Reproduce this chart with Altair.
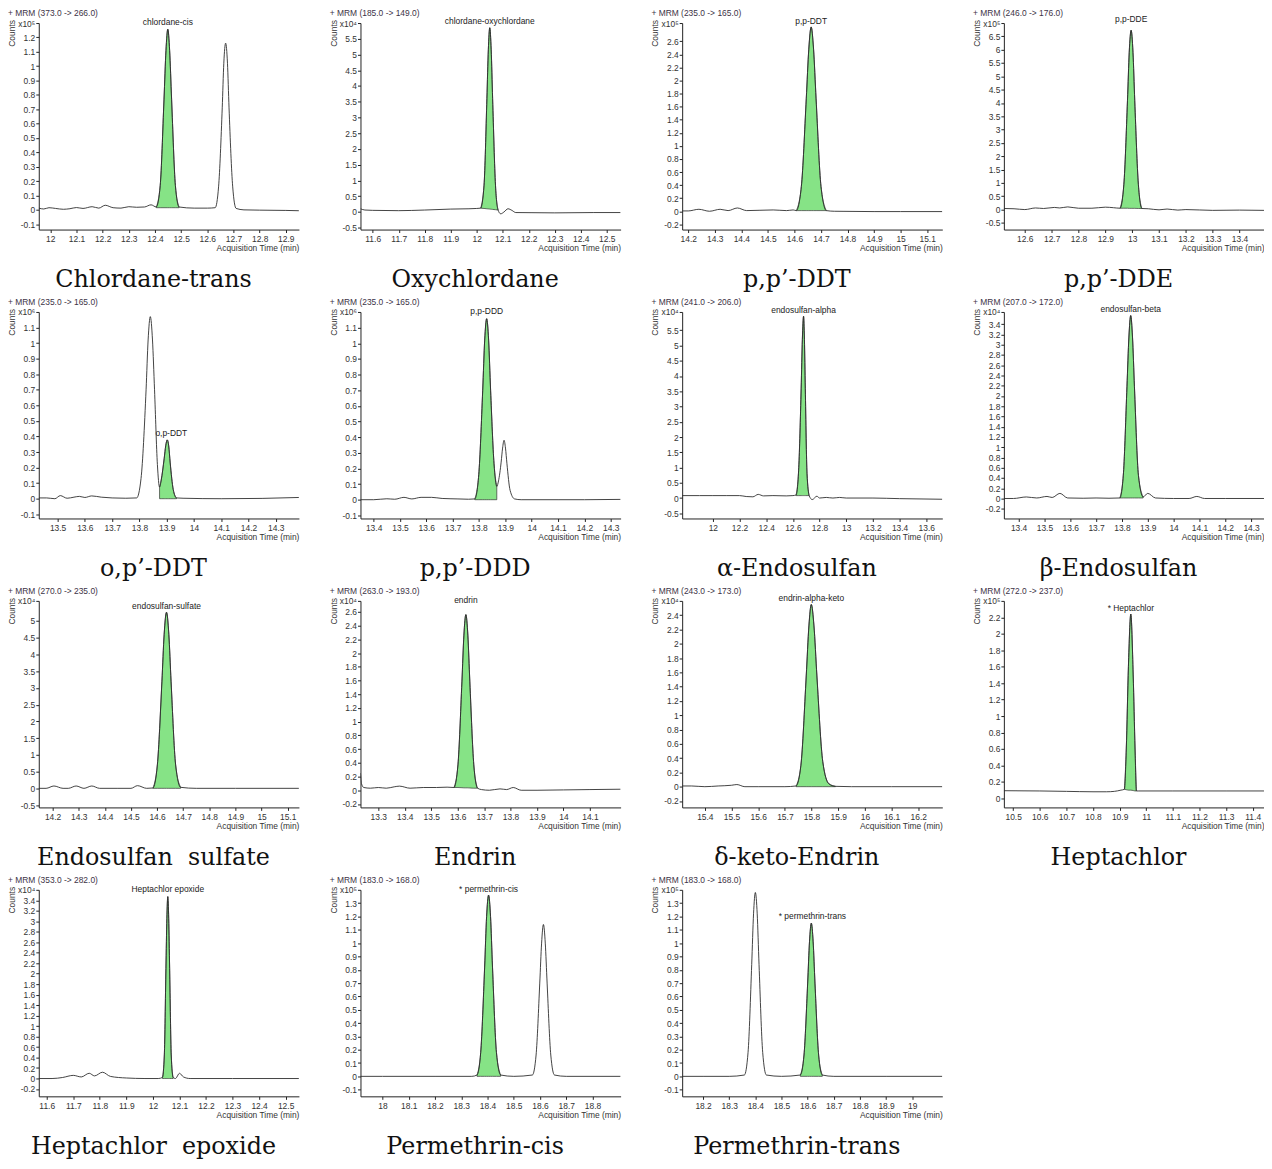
import altair as alt
import pandas as pd

# ---------------- data ----------------
# Panel 1: Chlordane-trans
P01_T = [11.956, 11.975, 11.995, 12.02, 12.05, 12.075, 12.1, 12.125, 12.16, 12.185, 12.21, 12.24, 12.27, 12.3, 12.33, 12.36, 12.385, 12.405, 12.42, 12.4345, 12.442, 12.449, 12.456, 12.4635, 12.478, 12.492, 12.55, 12.6, 12.63, 12.643, 12.657, 12.663, 12.67, 12.677, 12.683, 12.697, 12.71, 12.74, 12.8, 12.9, 12.95]
P01_C = [0.012, 0.006, 0.015, 0.01, 0.004, 0.008, 0.016, 0.01, 0.022, 0.012, 0.032, 0.015, 0.012, 0.022, 0.018, 0.02, 0.035, 0.02, 0.17, 0.77, 1.11, 1.257, 1.11, 0.77, 0.17, 0.02, 0.012, 0.012, 0.015, 0.16, 0.71, 1.02, 1.16, 1.02, 0.71, 0.16, 0.01, 0.0, -0.002, -0.004, -0.006]
P01_FT = [12.405, 12.42, 12.4345, 12.442, 12.449, 12.456, 12.4635, 12.478, 12.492]
P01_FC = [0.02, 0.17, 0.77, 1.11, 1.257, 1.11, 0.77, 0.17, 0.02]
P01_FB = [0.015, 0.015, 0.015, 0.015, 0.015, 0.015, 0.015, 0.015, 0.015]
P01_XD = [11.956, 12.95]
P01_YD = [-0.137, 1.3]
P01_XT = [12.0, 12.1, 12.2, 12.3, 12.4, 12.5, 12.6, 12.7, 12.8, 12.9]
P01_YT = [-0.1, 0, 0.1, 0.2, 0.3, 0.4, 0.5, 0.6, 0.7, 0.8, 0.9, 1, 1.1, 1.2]
P01_LAB = [12.449, 1.257]

# Panel 2: Oxychlordane
P02_T = [11.553, 11.57, 11.6, 11.7, 11.8, 11.9, 11.97, 12.0, 12.015, 12.028, 12.039, 12.0445, 12.05, 12.0555, 12.061, 12.072, 12.082, 12.092, 12.105, 12.12, 12.135, 12.15, 12.3, 12.45, 12.553]
P02_C = [0.1, 0.06, 0.05, 0.04, 0.06, 0.09, 0.1, 0.11, 0.12, 0.85, 3.6, 5.15, 5.85, 5.15, 3.6, 0.85, 0.06, -0.06, 0.0, 0.1, 0.05, -0.02, -0.03, -0.02, -0.02]
P02_FT = [12.015, 12.028, 12.039, 12.0445, 12.05, 12.0555, 12.061, 12.072, 12.082]
P02_FC = [0.12, 0.85, 3.6, 5.15, 5.85, 5.15, 3.6, 0.85, 0.06]
P02_FB = [0.12, 0.11, 0.1, 0.095, 0.09, 0.085, 0.08, 0.07, 0.06]
P02_XD = [11.553, 12.553]
P02_YD = [-0.56, 6.0]
P02_XT = [11.6, 11.7, 11.8, 11.9, 12.0, 12.1, 12.2, 12.3, 12.4, 12.5]
P02_YT = [-0.5, 0, 0.5, 1, 1.5, 2, 2.5, 3, 3.5, 4, 4.5, 5, 5.5]
P02_LAB = [12.05, 5.85]

# Panel 3: p,p'-DDT
P03_T = [14.177, 14.2, 14.24, 14.28, 14.32, 14.35, 14.385, 14.42, 14.47, 14.52, 14.57, 14.595, 14.607, 14.626, 14.6445, 14.654, 14.663, 14.672, 14.6815, 14.70, 14.72, 14.75, 14.9, 15.0, 15.157]
P03_C = [0.005, 0.005, 0.03, 0.0, 0.03, 0.01, 0.05, 0.01, 0.015, 0.02, 0.01, 0.02, 0.01, 0.38, 1.72, 2.48, 2.82, 2.48, 1.72, 0.38, 0.01, 0.0, -0.005, -0.005, -0.005]
P03_FT = [14.607, 14.626, 14.6445, 14.654, 14.663, 14.672, 14.6815, 14.70, 14.72]
P03_FC = [0.01, 0.38, 1.72, 2.48, 2.82, 2.48, 1.72, 0.38, 0.01]
P03_FB = [0.01, 0.01, 0.01, 0.01, 0.01, 0.01, 0.01, 0.01, 0.01]
P03_XD = [14.177, 15.157]
P03_YD = [-0.28, 2.88]
P03_XT = [14.2, 14.3, 14.4, 14.5, 14.6, 14.7, 14.8, 14.9, 15.0, 15.1]
P03_YT = [-0.2, 0, 0.2, 0.4, 0.6, 0.8, 1, 1.2, 1.4, 1.6, 1.8, 2, 2.2, 2.4, 2.6]
P03_LAB = [14.663, 2.82]

# Panel 4: p,p'-DDE
P04_T = [12.522, 12.56, 12.6, 12.64, 12.67, 12.71, 12.73, 12.76, 12.8, 12.85, 12.9, 12.93, 12.955, 12.969, 12.9825, 12.989, 12.996, 13.003, 13.0095, 13.023, 13.036, 13.06, 13.1, 13.13, 13.17, 13.2, 13.3, 13.4, 13.491]
P04_C = [0.04, 0.03, 0.0, 0.06, 0.04, 0.08, 0.06, 0.1, 0.05, 0.05, 0.09, 0.07, 0.05, 0.95, 4.1, 5.9, 6.73, 5.9, 4.1, 0.95, 0.04, 0.03, -0.01, 0.02, -0.02, 0.0, -0.03, -0.02, -0.03]
P04_FT = [12.955, 12.969, 12.9825, 12.989, 12.996, 13.003, 13.0095, 13.023, 13.036]
P04_FC = [0.05, 0.95, 4.1, 5.9, 6.73, 5.9, 4.1, 0.95, 0.04]
P04_FB = [0.05, 0.05, 0.05, 0.045, 0.045, 0.045, 0.045, 0.04, 0.04]
P04_XD = [12.522, 13.491]
P04_YD = [-0.75, 7.0]
P04_XT = [12.6, 12.7, 12.8, 12.9, 13.0, 13.1, 13.2, 13.3, 13.4]
P04_YT = [-0.5, 0, 0.5, 1, 1.5, 2, 2.5, 3, 3.5, 4, 4.5, 5, 5.5, 6, 6.5]
P04_LAB = [12.996, 6.73]

# Panel 5: o,p'-DDT
P05_T = [13.431, 13.46, 13.49, 13.51, 13.535, 13.56, 13.58, 13.6, 13.625, 13.66, 13.7, 13.75, 13.79, 13.806, 13.8245, 13.832, 13.84, 13.848, 13.8555, 13.866, 13.874, 13.88, 13.891, 13.8965, 13.902, 13.9075, 13.913, 13.924, 13.936, 13.96, 14.1, 14.25, 14.385]
P05_C = [0.005, 0.005, 0.0, 0.02, 0.003, 0.01, 0.015, 0.008, 0.018, 0.01, 0.005, 0.003, 0.005, 0.13, 0.70, 1.02, 1.17, 1.02, 0.70, 0.22, 0.075, 0.12, 0.26, 0.34, 0.378, 0.34, 0.23, 0.06, 0.005, 0.003, 0.0, 0.002, 0.008]
P05_FT = [13.874, 13.88, 13.891, 13.8965, 13.902, 13.9075, 13.913, 13.924, 13.936]
P05_FC = [0.075, 0.12, 0.26, 0.34, 0.378, 0.34, 0.23, 0.06, 0.005]
P05_FB = [0, 0, 0, 0, 0, 0, 0, 0, 0]
P05_XD = [13.431, 14.385]
P05_YD = [-0.127, 1.2]
P05_XT = [13.5, 13.6, 13.7, 13.8, 13.9, 14.0, 14.1, 14.2, 14.3]
P05_YT = [-0.1, 0, 0.1, 0.2, 0.3, 0.4, 0.5, 0.6, 0.7, 0.8, 0.9, 1, 1.1]
P05_LAB = [13.917, 0.378]

# Panel 6: p,p'-DDD
P06_T = [13.35, 13.4, 13.45, 13.48, 13.515, 13.545, 13.58, 13.62, 13.66, 13.72, 13.76, 13.784, 13.799, 13.814, 13.8215, 13.829, 13.8365, 13.844, 13.857, 13.8675, 13.874, 13.884, 13.8895, 13.895, 13.9005, 13.906, 13.918, 13.935, 13.96, 14.1, 14.2, 14.3375]
P06_C = [0.0, 0.0, 0.006, 0.003, 0.015, 0.005, 0.015, 0.015, 0.008, 0.005, 0.003, 0.005, 0.16, 0.70, 1.02, 1.157, 1.02, 0.70, 0.23, 0.085, 0.12, 0.24, 0.33, 0.38, 0.33, 0.23, 0.06, 0.005, 0.0, 0.0, 0.0, 0.002]
P06_FT = [13.784, 13.799, 13.814, 13.8215, 13.829, 13.8365, 13.844, 13.857, 13.8675]
P06_FC = [0.005, 0.16, 0.70, 1.02, 1.157, 1.02, 0.70, 0.23, 0.085]
P06_FB = [0, 0, 0, 0, 0, 0, 0, 0, 0]
P06_XD = [13.35, 14.3375]
P06_YD = [-0.12, 1.2]
P06_XT = [13.4, 13.5, 13.6, 13.7, 13.8, 13.9, 14.0, 14.1, 14.2, 14.3]
P06_YT = [-0.1, 0, 0.1, 0.2, 0.3, 0.4, 0.5, 0.6, 0.7, 0.8, 0.9, 1, 1.1]
P06_LAB = [13.829, 1.157]

# Panel 7: alpha-Endosulfan
P07_T = [11.77, 11.9, 12.0, 12.1, 12.2, 12.25, 12.3, 12.34, 12.38, 12.45, 12.55, 12.6, 12.624, 12.644, 12.662, 12.671, 12.68, 12.6865, 12.693, 12.706, 12.722, 12.745, 12.78, 12.8, 12.85, 12.9, 12.95, 13.0, 13.2, 13.4, 13.72]
P07_C = [0.08, 0.08, 0.08, 0.08, 0.08, 0.05, 0.04, 0.12, 0.07, 0.08, 0.07, 0.08, 0.1, 1.0, 3.6, 5.2, 5.96, 5.2, 3.6, 0.8, 0.08, -0.05, 0.06, 0.0, 0.02, 0.0, 0.02, 0.0, 0.0, -0.02, -0.04]
P07_FT = [12.624, 12.644, 12.662, 12.671, 12.68, 12.6865, 12.693, 12.706, 12.722]
P07_FC = [0.1, 1.0, 3.6, 5.2, 5.96, 5.2, 3.6, 0.8, 0.08]
P07_FB = [0.08, 0.08, 0.08, 0.08, 0.08, 0.08, 0.08, 0.08, 0.08]
P07_XD = [11.77, 13.72]
P07_YD = [-0.67, 6.1]
P07_XT = [12.0, 12.2, 12.4, 12.6, 12.8, 13.0, 13.2, 13.4, 13.6]
P07_YT = [-0.5, 0, 0.5, 1, 1.5, 2, 2.5, 3, 3.5, 4, 4.5, 5, 5.5]
P07_LAB = [12.68, 5.96]

# Panel 8: beta-Endosulfan
P08_T = [13.343, 13.38, 13.43, 13.47, 13.51, 13.53, 13.56, 13.59, 13.65, 13.7, 13.75, 13.792, 13.806, 13.8195, 13.827, 13.834, 13.841, 13.8485, 13.864, 13.882, 13.9, 13.93, 14.0, 14.06, 14.09, 14.12, 14.2, 14.35]
P08_C = [0.0, 0.0, 0.03, 0.01, 0.04, 0.02, 0.1, 0.01, 0.005, 0.01, 0.005, 0.01, 0.5, 2.18, 3.15, 3.57, 3.15, 2.18, 0.45, 0.03, 0.1, 0.01, 0.0, 0.0, 0.04, 0.0, 0.0, 0.0]
P08_FT = [13.792, 13.806, 13.8195, 13.827, 13.834, 13.841, 13.8485, 13.864, 13.882]
P08_FC = [0.01, 0.5, 2.18, 3.15, 3.57, 3.15, 2.18, 0.45, 0.03]
P08_FB = [0.01, 0.01, 0.01, 0.01, 0.01, 0.01, 0.01, 0.01, 0.01]
P08_XD = [13.343, 14.35]
P08_YD = [-0.39, 3.64]
P08_XT = [13.4, 13.5, 13.6, 13.7, 13.8, 13.9, 14.0, 14.1, 14.2, 14.3]
P08_YT = [-0.2, 0, 0.2, 0.4, 0.6, 0.8, 1, 1.2, 1.4, 1.6, 1.8, 2, 2.2, 2.4, 2.6, 2.8, 3, 3.2, 3.4]
P08_LAB = [13.834, 3.57]

# Panel 9: Endosulfan sulfate
P09_T = [14.147, 14.175, 14.205, 14.24, 14.26, 14.29, 14.32, 14.35, 14.38, 14.45, 14.5, 14.525, 14.56, 14.584, 14.601, 14.6185, 14.627, 14.636, 14.645, 14.6535, 14.671, 14.69, 14.75, 14.9, 15.143]
P09_C = [0.0, 0.0, 0.07, 0.0, 0.0, 0.07, 0.0, 0.07, 0.0, 0.0, 0.0, 0.08, 0.0, 0.01, 0.7, 3.2, 4.6, 5.26, 4.6, 3.2, 0.7, 0.03, 0.0, 0.0, 0.0]
P09_FT = [14.584, 14.601, 14.6185, 14.627, 14.636, 14.645, 14.6535, 14.671, 14.69]
P09_FC = [0.01, 0.7, 3.2, 4.6, 5.26, 4.6, 3.2, 0.7, 0.03]
P09_FB = [0, 0, 0, 0, 0, 0, 0, 0, 0]
P09_XD = [14.147, 15.143]
P09_YD = [-0.57, 5.6]
P09_XT = [14.2, 14.3, 14.4, 14.5, 14.6, 14.7, 14.8, 14.9, 15.0, 15.1]
P09_YT = [-0.5, 0, 0.5, 1, 1.5, 2, 2.5, 3, 3.5, 4, 4.5, 5]
P09_LAB = [14.636, 5.26]

# Panel 10: Endrin
P10_T = [13.2325, 13.236, 13.245, 13.27, 13.3, 13.33, 13.36, 13.38, 13.42, 13.47, 13.52, 13.56, 13.586, 13.601, 13.616, 13.6235, 13.631, 13.6385, 13.646, 13.661, 13.675, 13.69, 13.72, 13.76, 13.785, 13.81, 13.84, 13.9, 14.0, 14.1, 14.216]
P10_C = [0.25, 0.1, 0.04, 0.03, 0.04, 0.03, 0.05, 0.06, 0.03, 0.04, 0.04, 0.045, 0.04, 0.37, 1.58, 2.26, 2.56, 2.26, 1.58, 0.37, 0.03, 0.01, 0.0, 0.02, 0.01, 0.04, 0.0, 0.0, 0.005, 0.01, 0.015]
P10_FT = [13.586, 13.601, 13.616, 13.6235, 13.631, 13.6385, 13.646, 13.661, 13.675]
P10_FC = [0.04, 0.37, 1.58, 2.26, 2.56, 2.26, 1.58, 0.37, 0.03]
P10_FB = [0.04, 0.04, 0.037, 0.035, 0.035, 0.035, 0.033, 0.03, 0.03]
P10_XD = [13.2325, 14.216]
P10_YD = [-0.25, 2.76]
P10_XT = [13.3, 13.4, 13.5, 13.6, 13.7, 13.8, 13.9, 14.0, 14.1]
P10_YT = [-0.2, 0, 0.2, 0.4, 0.6, 0.8, 1, 1.2, 1.4, 1.6, 1.8, 2, 2.2, 2.4, 2.6]
P10_LAB = [13.631, 2.56]

# Panel 11: delta-keto-Endrin
P11_T = [15.315, 15.35, 15.4, 15.45, 15.5, 15.52, 15.55, 15.6, 15.7, 15.742, 15.76, 15.78, 15.79, 15.799, 15.809, 15.82, 15.842, 15.865, 15.89, 15.95, 16.1, 16.29]
P11_C = [0.01, 0.01, 0.0, 0.01, 0.02, 0.03, 0.0, 0.0, 0.0, 0.01, 0.3, 1.55, 2.25, 2.55, 2.25, 1.55, 0.35, 0.04, 0.005, 0.0, 0.0, 0.0]
P11_FT = [15.742, 15.76, 15.78, 15.79, 15.799, 15.809, 15.82, 15.842, 15.865, 15.89]
P11_FC = [0.01, 0.3, 1.55, 2.25, 2.55, 2.25, 1.55, 0.35, 0.04, 0.005]
P11_FB = [0, 0, 0, 0, 0, 0, 0, 0, 0, 0]
P11_XD = [15.315, 16.29]
P11_YD = [-0.29, 2.6]
P11_XT = [15.4, 15.5, 15.6, 15.7, 15.8, 15.9, 16.0, 16.1, 16.2]
P11_YT = [-0.2, 0, 0.2, 0.4, 0.6, 0.8, 1, 1.2, 1.4, 1.6, 1.8, 2, 2.2, 2.4]
P11_LAB = [15.799, 2.55]

# Panel 12: Heptachlor
P12_T = [10.465, 10.6, 10.7, 10.8, 10.85, 10.88, 10.905, 10.918, 10.925, 10.933, 10.942, 10.951, 10.958, 10.963, 10.97, 11.1, 11.3, 11.4425]
P12_C = [0.093, 0.09, 0.085, 0.08, 0.08, 0.085, 0.1, 0.11, 0.6, 1.6, 2.24, 1.5, 0.6, 0.09, 0.09, 0.09, 0.09, 0.09]
P12_FT = [10.918, 10.925, 10.933, 10.942, 10.951, 10.958, 10.963]
P12_FC = [0.11, 0.6, 1.6, 2.24, 1.5, 0.6, 0.09]
P12_FB = [0.11, 0.105, 0.1, 0.1, 0.095, 0.09, 0.09]
P12_XD = [10.465, 11.4425]
P12_YD = [-0.11, 2.4]
P12_XT = [10.5, 10.6, 10.7, 10.8, 10.9, 11.0, 11.1, 11.2, 11.3, 11.4]
P12_YT = [0, 0.2, 0.4, 0.6, 0.8, 1, 1.2, 1.4, 1.6, 1.8, 2, 2.2]
P12_LAB = [10.942, 2.24]

# Panel 13: Heptachlor epoxide
P13_T = [11.57, 11.62, 11.66, 11.7, 11.73, 11.76, 11.78, 11.81, 11.84, 11.9, 11.97, 12.02, 12.036, 12.043, 12.049, 12.0525, 12.056, 12.0595, 12.063, 12.069, 12.076, 12.085, 12.1, 12.115, 12.14, 12.3, 12.55]
P13_C = [0.0, 0.0, 0.02, 0.06, 0.03, 0.1, 0.05, 0.12, 0.04, 0.01, 0.0, 0.0, 0.02, 0.45, 2.1, 3.05, 3.47, 3.05, 2.1, 0.45, 0.02, 0.0, 0.1, 0.03, 0.0, 0.0, 0.0]
P13_FT = [12.036, 12.043, 12.049, 12.0525, 12.056, 12.0595, 12.063, 12.069, 12.076]
P13_FC = [0.02, 0.45, 2.1, 3.05, 3.47, 3.05, 2.1, 0.45, 0.02]
P13_FB = [0, 0, 0, 0, 0, 0, 0, 0, 0]
P13_XD = [11.57, 12.55]
P13_YD = [-0.34, 3.6]
P13_XT = [11.6, 11.7, 11.8, 11.9, 12.0, 12.1, 12.2, 12.3, 12.4, 12.5]
P13_YT = [-0.2, 0, 0.2, 0.4, 0.6, 0.8, 1, 1.2, 1.4, 1.6, 1.8, 2, 2.2, 2.4, 2.6, 2.8, 3, 3.2, 3.4]
P13_LAB = [12.056, 3.47]

# Panel 14: Permethrin-cis
P14_T = [17.916, 18.0, 18.2, 18.34, 18.36, 18.374, 18.389, 18.3965, 18.404, 18.4115, 18.419, 18.434, 18.45, 18.5, 18.571, 18.585, 18.599, 18.606, 18.613, 18.62, 18.627, 18.641, 18.655, 18.7, 18.907]
P14_C = [0.0, 0.0, 0.0, 0.0, 0.01, 0.18, 0.82, 1.2, 1.36, 1.2, 0.82, 0.18, 0.01, 0.0, 0.01, 0.16, 0.7, 1.0, 1.14, 1.0, 0.7, 0.16, 0.01, 0.0, 0.0]
P14_FT = [18.36, 18.374, 18.389, 18.3965, 18.404, 18.4115, 18.419, 18.434, 18.45]
P14_FC = [0.01, 0.18, 0.82, 1.2, 1.36, 1.2, 0.82, 0.18, 0.01]
P14_FB = [0, 0, 0, 0, 0, 0, 0, 0, 0]
P14_XD = [17.916, 18.907]
P14_YD = [-0.15, 1.4]
P14_XT = [18.0, 18.1, 18.2, 18.3, 18.4, 18.5, 18.6, 18.7, 18.8]
P14_YT = [-0.1, 0, 0.1, 0.2, 0.3, 0.4, 0.5, 0.6, 0.7, 0.8, 0.9, 1, 1.1, 1.2, 1.3]
P14_LAB = [18.404, 1.36]

# Panel 15: Permethrin-trans
P15_T = [18.12, 18.2, 18.3, 18.358, 18.372, 18.386, 18.393, 18.4, 18.407, 18.414, 18.428, 18.442, 18.5, 18.572, 18.586, 18.6, 18.607, 18.614, 18.621, 18.628, 18.642, 18.656, 18.7, 18.9, 19.115]
P15_C = [0.0, 0.0, 0.0, 0.01, 0.18, 0.84, 1.22, 1.38, 1.22, 0.84, 0.18, 0.01, 0.0, 0.01, 0.16, 0.7, 1.01, 1.15, 1.01, 0.7, 0.16, 0.01, 0.0, 0.0, 0.0]
P15_FT = [18.572, 18.586, 18.6, 18.607, 18.614, 18.621, 18.628, 18.642, 18.656]
P15_FC = [0.01, 0.16, 0.7, 1.01, 1.15, 1.01, 0.7, 0.16, 0.01]
P15_FB = [0, 0, 0, 0, 0, 0, 0, 0, 0]
P15_XD = [18.12, 19.115]
P15_YD = [-0.15, 1.4]
P15_XT = [18.2, 18.3, 18.4, 18.5, 18.6, 18.7, 18.8, 18.9, 19.0]
P15_YT = [-0.1, 0, 0.1, 0.2, 0.3, 0.4, 0.5, 0.6, 0.7, 0.8, 0.9, 1, 1.1, 1.2, 1.3]
P15_LAB = [18.618, 1.15]

CAPTIONS = ["Chlordane-trans", "Oxychlordane", "p,p\u2019-DDT", "p,p\u2019-DDE",
            "o,p\u2019-DDT", "p,p\u2019-DDD", "\u03b1-Endosulfan", "\u03b2-Endosulfan",
            "Endosulfan\u00a0 sulfate", "Endrin", "\u03b4-keto-Endrin", "Heptachlor",
            "Heptachlor\u00a0 epoxide", "Permethrin-cis", "Permethrin-trans"]
MRM = ["+ MRM (373.0 -> 266.0)", "+ MRM (185.0 -> 149.0)", "+ MRM (235.0 -> 165.0)", "+ MRM (246.0 -> 176.0)",
       "+ MRM (235.0 -> 165.0)", "+ MRM (235.0 -> 165.0)", "+ MRM (241.0 -> 206.0)", "+ MRM (207.0 -> 172.0)",
       "+ MRM (270.0 -> 235.0)", "+ MRM (263.0 -> 193.0)", "+ MRM (243.0 -> 173.0)", "+ MRM (272.0 -> 237.0)",
       "+ MRM (353.0 -> 282.0)", "+ MRM (183.0 -> 168.0)", "+ MRM (183.0 -> 168.0)"]
EXPONENT = ["\u2075", "\u2074", "\u2075", "\u2075", "\u2076", "\u2076", "\u2074", "\u2074",
            "\u2074", "\u2074", "\u2074", "\u2075", "\u2074", "\u2075", "\u2075"]
PEAK_NAMES = ["chlordane-cis", "chlordane-oxychlordane", "p,p-DDT", "p,p-DDE", "o,p-DDT", "p,p-DDD",
              "endosulfan-alpha", "endosulfan-beta", "endosulfan-sulfate", "endrin", "endrin-alpha-keto",
              "* Heptachlor", "Heptachlor epoxide", "* permethrin-cis", "* permethrin-trans"]

# style: vertical offset of each peak label above its apex (px)
LABEL_DY = [-2, -2, -1, -6, -2, -3, -1, -2, -1, -10, -1, -1, -3, -1, -2]

SERIES = [
    (P01_T, P01_C, P01_FT, P01_FC, P01_FB, P01_XD, P01_YD, P01_XT, P01_YT, P01_LAB),
    (P02_T, P02_C, P02_FT, P02_FC, P02_FB, P02_XD, P02_YD, P02_XT, P02_YT, P02_LAB),
    (P03_T, P03_C, P03_FT, P03_FC, P03_FB, P03_XD, P03_YD, P03_XT, P03_YT, P03_LAB),
    (P04_T, P04_C, P04_FT, P04_FC, P04_FB, P04_XD, P04_YD, P04_XT, P04_YT, P04_LAB),
    (P05_T, P05_C, P05_FT, P05_FC, P05_FB, P05_XD, P05_YD, P05_XT, P05_YT, P05_LAB),
    (P06_T, P06_C, P06_FT, P06_FC, P06_FB, P06_XD, P06_YD, P06_XT, P06_YT, P06_LAB),
    (P07_T, P07_C, P07_FT, P07_FC, P07_FB, P07_XD, P07_YD, P07_XT, P07_YT, P07_LAB),
    (P08_T, P08_C, P08_FT, P08_FC, P08_FB, P08_XD, P08_YD, P08_XT, P08_YT, P08_LAB),
    (P09_T, P09_C, P09_FT, P09_FC, P09_FB, P09_XD, P09_YD, P09_XT, P09_YT, P09_LAB),
    (P10_T, P10_C, P10_FT, P10_FC, P10_FB, P10_XD, P10_YD, P10_XT, P10_YT, P10_LAB),
    (P11_T, P11_C, P11_FT, P11_FC, P11_FB, P11_XD, P11_YD, P11_XT, P11_YT, P11_LAB),
    (P12_T, P12_C, P12_FT, P12_FC, P12_FB, P12_XD, P12_YD, P12_XT, P12_YT, P12_LAB),
    (P13_T, P13_C, P13_FT, P13_FC, P13_FB, P13_XD, P13_YD, P13_XT, P13_YT, P13_LAB),
    (P14_T, P14_C, P14_FT, P14_FC, P14_FB, P14_XD, P14_YD, P14_XT, P14_YT, P14_LAB),
    (P15_T, P15_C, P15_FT, P15_FC, P15_FB, P15_XD, P15_YD, P15_XT, P15_YT, P15_LAB),
]

W, H = 262, 208
SMALL = 8.5
TXT = "#333333"


def make_panel(i):
    t, c, ft, fc, fb, xd, yd, xt, yt, lab = SERIES[i]
    top = yd[1]
    xs = alt.Scale(domain=xd, nice=False, zero=False)
    ys = alt.Scale(domain=yd, nice=False, zero=False)
    xaxis = alt.Axis(values=xt, labelExpr="datum.value + ''", title="Acquisition Time (min)",
                     titleAnchor="end", titleFontSize=SMALL, titleFontWeight="normal", titleColor=TXT,
                     titlePadding=1, labelFontSize=SMALL, labelColor=TXT, labelPadding=2, tickSize=3,
                     grid=False, domainColor="#222", tickColor="#222", labelOverlap=False, labelFlush=False)
    yaxis = alt.Axis(values=yt + [top],
                     labelExpr=f"datum.value > {top - 1e-6} ? 'x10{EXPONENT[i]}' : datum.value + ''",
                     title=None, minExtent=21, maxExtent=21,
                     labelFontSize=SMALL, labelColor=TXT, labelPadding=1, tickSize=3, grid=False,
                     domainColor="#222", tickColor="#222", labelOverlap=False, labelFlush=False)
    X = alt.X("t:Q", scale=xs, axis=xaxis)
    Y = alt.Y("c:Q", scale=ys, axis=yaxis)

    trace = pd.DataFrame({"t": t, "c": c})
    fill = pd.DataFrame({"t": ft, "c": fc, "b": fb})
    label = pd.DataFrame({"t": [lab[0]], "c": [lab[1]], "s": [PEAK_NAMES[i]]})
    head = pd.DataFrame({"s": [MRM[i]]})
    counts = pd.DataFrame({"s": ["Counts"]})

    area = alt.Chart(fill).mark_area(interpolate="monotone", fill="#86e386", stroke="#333333",
                                     strokeWidth=0.7, clip=True).encode(x=X, y=Y, y2="b:Q")
    line = alt.Chart(trace).mark_line(interpolate="monotone", color="#2d2d2d", strokeWidth=0.9,
                                      clip=True).encode(x=X, y=Y)
    ltext = alt.Chart(label).mark_text(baseline="bottom", dy=LABEL_DY[i], fontSize=SMALL,
                                       color="#222222").encode(x=X, y=Y, text="s:N")
    htext = alt.Chart(head).mark_text(align="left", baseline="bottom", fontSize=SMALL,
                                      color="#3d3346").encode(x=alt.value(-31), y=alt.value(-5), text="s:N")
    ctext = alt.Chart(counts).mark_text(align="right", baseline="top", angle=270, fontSize=SMALL,
                                        color=TXT).encode(x=alt.value(-31), y=alt.value(-3), text="s:N")
    return alt.layer(area, line, ltext, htext, ctext).properties(
        width=W, height=H,
        title=alt.TitleParams(text=CAPTIONS[i], orient="bottom", anchor="middle", frame="bounds",
                              font="DejaVu Serif", fontSize=24, fontWeight="normal",
                              color="#111111", offset=16))


panels = [make_panel(i) for i in range(15)]
chart = alt.concat(*panels, columns=4, spacing={"row": 6, "column": 31}).properties(
    padding={"left": 0, "top": -3, "right": 0, "bottom": 0}
).configure(font="Liberation Sans", background="white").configure_view(stroke=None)

chart.save("out.html", embed_options={"renderer": "svg", "actions": False})
